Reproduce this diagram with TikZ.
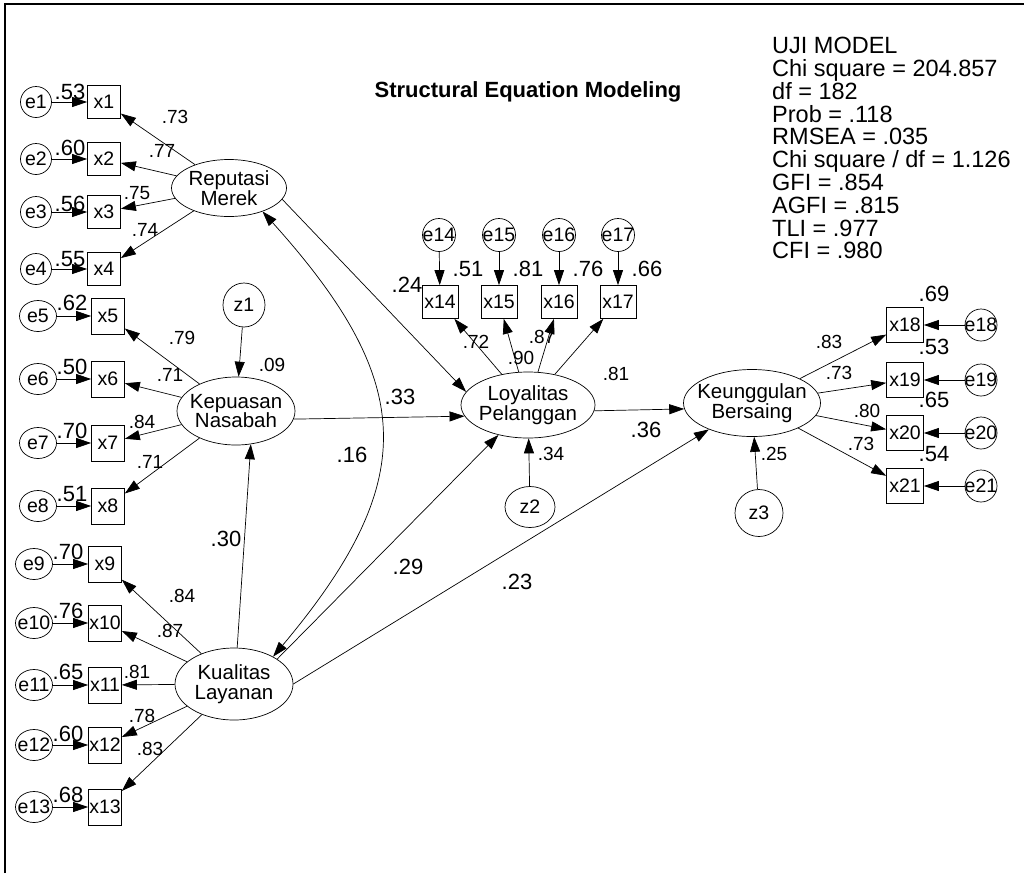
\documentclass[tikz,border=0pt]{standalone}
\usepackage{fontspec}
\setmainfont{Liberation Sans}
\usetikzlibrary{shapes.geometric,arrows.meta}

\newcommand\labfont{\fontsize{19.5}{18}\selectfont}
\newcommand\latfont{\fontsize{20.5}{19.5}\selectfont}
\newcommand\smallcoef{\fontsize{19}{19}\selectfont}
\newcommand\bigcoef{\fontsize{22}{22}\selectfont}
\newcommand\fitfont{\fontsize{23.5}{22.8}\selectfont}

\begin{document}
\begin{tikzpicture}[x=1pt,y=1pt,
    errc/.style={ellipse,draw,line width=0.7pt,inner sep=0pt,inner xsep=-6pt,
      minimum width=31pt,minimum height=31pt,font=\labfont},
    obsbox/.style={rectangle,draw,line width=0.7pt,inner sep=0pt,
      minimum width=33pt,minimum height=33pt,font=\labfont},
    latent/.style={ellipse,draw,line width=0.7pt,inner sep=0pt,inner xsep=-12pt,inner ysep=-3pt,
      align=center,font=\latfont},
    pth/.style={-{Triangle[length=15pt,width=10pt]},line width=0.7pt},
    cov/.style={{Triangle[length=15pt,width=10pt]}-{Triangle[length=15pt,width=10pt]},line width=0.7pt},
    ld/.style={inner sep=0pt,font=\smallcoef},
    cf/.style={inner sep=0pt,font=\bigcoef}]
  \useasboundingbox (0,0) rectangle (1024,-873);
  \draw [line width=2pt] (5,-873) -- (5,-4) -- (1024,-4);

  % title and fit indices
  \node at (528,-97) [anchor=base,inner sep=0pt,font=\bfseries\fontsize{22}{22}\selectfont] (ttl) {Structural Equation Modeling};
  \node at (772,-37) [anchor=north west,align=left,inner sep=0pt,font=\fitfont] (fit)
    {UJI MODEL\\Chi square = 204.857\\df = 182\\Prob = .118\\RMSEA = .035\\Chi square / df = 1.126\\GFI = .854\\AGFI = .815\\TLI = .977\\CFI = .980};

  % latent variables
  \node at (229,-188) [latent,minimum width=115pt,minimum height=57pt] (RM) {Reputasi\\Merek};
  \node at (236,-411) [latent,minimum width=118pt,minimum height=68pt] (KN) {Kepuasan\\Nasabah};
  \node at (234,-684) [latent,minimum width=118pt,minimum height=72pt] (KL) {Kualitas\\Layanan};
  \node at (528,-405) [latent,minimum width=134pt,minimum height=66pt] (LP) {Loyalitas\\Pelanggan};
  \node at (752,-403) [latent,minimum width=137pt,minimum height=67pt] (KB) {Keunggulan\\Bersaing};
  \node at (244,-305) [errc,minimum width=42pt,minimum height=44pt] (z1) {z1};
  \node at (530,-507) [errc,minimum width=50pt,minimum height=41pt] (z2) {z2};
  \node at (759,-513) [errc,minimum width=48pt,minimum height=47pt] (z3) {z3};

  % Reputasi Merek indicators
  \node at (36,-102) [errc] (e1) {e1};
  \node at (36,-159) [errc] (e2) {e2};
  \node at (36,-212) [errc] (e3) {e3};
  \node at (36,-269) [errc] (e4) {e4};
  \node at (104,-102) [obsbox] (x1) {x1};
  \node at (104,-159) [obsbox] (x2) {x2};
  \node at (104,-212) [obsbox] (x3) {x3};
  \node at (104,-269) [obsbox] (x4) {x4};

  % Kepuasan Nasabah indicators
  \node at (38,-316) [errc,minimum width=37pt] (e5) {e5};
  \node at (38,-379) [errc,minimum width=37pt] (e6) {e6};
  \node at (38,-443) [errc,minimum width=37pt] (e7) {e7};
  \node at (38,-506) [errc,minimum width=37pt] (e8) {e8};
  \node at (108,-316) [obsbox,minimum height=36pt] (x5) {x5};
  \node at (108,-379) [obsbox,minimum height=36pt] (x6) {x6};
  \node at (108,-443) [obsbox,minimum height=36pt] (x7) {x7};
  \node at (108,-506) [obsbox,minimum height=36pt] (x8) {x8};

  % Kualitas Layanan indicators
  \node at (34,-564) [errc,minimum width=37pt] (e9) {e9};
  \node at (34,-623) [errc,minimum width=37pt] (e10) {e10};
  \node at (34,-685) [errc,minimum width=37pt] (e11) {e11};
  \node at (34,-745) [errc,minimum width=37pt] (e12) {e12};
  \node at (34,-807) [errc,minimum width=37pt] (e13) {e13};
  \node at (105,-564) [obsbox,minimum height=36pt] (x9) {x9};
  \node at (105,-623) [obsbox,minimum height=36pt] (x10) {x10};
  \node at (105,-685) [obsbox,minimum height=36pt] (x11) {x11};
  \node at (105,-745) [obsbox,minimum height=36pt] (x12) {x12};
  \node at (105,-807) [obsbox,minimum height=36pt] (x13) {x13};

  % Loyalitas Pelanggan indicators
  \node at (439,-235) [errc,minimum width=33pt,minimum height=33pt] (e14) {e14};
  \node at (499,-235) [errc,minimum width=33pt,minimum height=33pt] (e15) {e15};
  \node at (559,-235) [errc,minimum width=33pt,minimum height=33pt] (e16) {e16};
  \node at (618,-235) [errc,minimum width=33pt,minimum height=33pt] (e17) {e17};
  \node at (440,-302) [obsbox,minimum width=36pt] (x14) {x14};
  \node at (499,-302) [obsbox,minimum width=36pt] (x15) {x15};
  \node at (559,-302) [obsbox,minimum width=36pt] (x16) {x16};
  \node at (618,-302) [obsbox,minimum width=36pt] (x17) {x17};

  % Keunggulan Bersaing indicators
  \node at (981,-325) [errc,minimum width=32pt,minimum height=32pt] (e18) {e18};
  \node at (981,-380) [errc,minimum width=32pt,minimum height=32pt] (e19) {e19};
  \node at (981,-433) [errc,minimum width=32pt,minimum height=32pt] (e20) {e20};
  \node at (981,-486) [errc,minimum width=32pt,minimum height=32pt] (e21) {e21};
  \node at (905,-325) [obsbox,minimum width=37pt,minimum height=35pt] (x18) {x18};
  \node at (905,-380) [obsbox,minimum width=37pt,minimum height=35pt] (x19) {x19};
  \node at (905,-433) [obsbox,minimum width=37pt,minimum height=35pt] (x20) {x20};
  \node at (905,-486) [obsbox,minimum width=37pt,minimum height=35pt] (x21) {x21};

  % error paths
  \draw [pth] (e1) -- (x1);
  \draw [pth] (e2) -- (x2);
  \draw [pth] (e3) -- (x3);
  \draw [pth] (e4) -- (x4);
  \draw [pth] (e5) -- (x5);
  \draw [pth] (e6) -- (x6);
  \draw [pth] (e7) -- (x7);
  \draw [pth] (e8) -- (x8);
  \draw [pth] (e9) -- (x9);
  \draw [pth] (e10) -- (x10);
  \draw [pth] (e11) -- (x11);
  \draw [pth] (e12) -- (x12);
  \draw [pth] (e13) -- (x13);
  \draw [pth] (e14) -- (x14);
  \draw [pth] (e15) -- (x15);
  \draw [pth] (e16) -- (x16);
  \draw [pth] (e17) -- (x17);
  \draw [pth] (e18) -- (x18);
  \draw [pth] (e19) -- (x19);
  \draw [pth] (e20) -- (x20);
  \draw [pth] (e21) -- (x21);

  % loadings
  \draw [pth] (RM) -- (x1);
  \draw [pth] (RM) -- (x2);
  \draw [pth] (RM) -- (x3);
  \draw [pth] (RM) -- (x4);
  \draw [pth] (KN) -- (x5);
  \draw [pth] (KN) -- (x6);
  \draw [pth] (KN) -- (x7);
  \draw [pth] (KN) -- (x8);
  \draw [pth] (KL) -- (x9);
  \draw [pth] (KL) -- (x10);
  \draw [pth] (KL) -- (x11);
  \draw [pth] (KL) -- (x12);
  \draw [pth] (KL) -- (x13);
  \draw [pth] (LP) -- (x14);
  \draw [pth] (LP) -- (x15);
  \draw [pth] (LP) -- (x16);
  \draw [pth] (LP) -- (x17);
  \draw [pth] (KB) -- (x18);
  \draw [pth] (KB) -- (x19);
  \draw [pth] (KB) -- (x20);
  \draw [pth] (KB) -- (x21);

  % structural paths
  \draw [pth] (z1) -- (KN);
  \draw [pth] (z2) -- (LP);
  \draw [pth] (z3) -- (KB);
  \draw [pth] (RM.-12) -- (LP.168);
  \draw [pth] (KN.-8) -- (LP.190);
  \draw [pth] (KL.30) -- (LP);
  \draw [pth] (KL.85) -- (KN.-66);
  \draw [pth] (KL.east) -- (KB);
  \draw [pth] (LP.-5) -- (KB.185);
  \draw [cov] (RM.-35) .. controls +(-48:230) and +(50:230) .. (KL.35);

  % estimates
  \node at (70,-92) [cf] (r1) {.53};
  \node at (70,-148) [cf] (r2) {.60};
  \node at (70,-204) [cf] (r3) {.56};
  \node at (70,-259) [cf] (r4) {.55};
  \node at (72,-303) [cf] (r5) {.62};
  \node at (72,-367) [cf] (r6) {.50};
  \node at (72,-431) [cf] (r7) {.70};
  \node at (72,-494) [cf] (r8) {.51};
  \node at (68,-552) [cf] (r9) {.70};
  \node at (68,-611) [cf] (r10) {.76};
  \node at (68,-672) [cf] (r11) {.65};
  \node at (68,-734) [cf] (r12) {.60};
  \node at (68,-795) [cf] (r13) {.68};
  \node at (468,-269) [cf] (r14) {.51};
  \node at (528,-269) [cf] (r15) {.81};
  \node at (588,-269) [cf] (r16) {.76};
  \node at (647,-269) [cf] (r17) {.66};
  \node at (934,-294) [cf] (r18) {.69};
  \node at (934,-347) [cf] (r19) {.53};
  \node at (934,-400) [cf] (r20) {.65};
  \node at (934,-454) [cf] (r21) {.54};

  \node at (175,-117) [ld] (l1) {.73};
  \node at (162,-151) [ld] (l2) {.77};
  \node at (137,-193) [ld] (l3) {.75};
  \node at (145,-230) [ld] (l4) {.74};
  \node at (182,-338) [ld] (l5) {.79};
  \node at (170,-375) [ld] (l6) {.71};
  \node at (142,-422) [ld] (l7) {.84};
  \node at (150,-462) [ld] (l8) {.71};
  \node at (182,-596) [ld] (l9) {.84};
  \node at (170,-631) [ld] (l10) {.87};
  \node at (137,-672) [ld] (l11) {.81};
  \node at (142,-716) [ld] (l12) {.78};
  \node at (150,-749) [ld] (l13) {.83};
  \node at (476,-342) [ld] (l14) {.72};
  \node at (521,-358) [ld] (l15) {.90};
  \node at (542,-337) [ld] (l16) {.87};
  \node at (616,-374) [ld] (l17) {.81};
  \node at (829,-342) [ld] (l18) {.83};
  \node at (839,-373) [ld] (l19) {.73};
  \node at (867,-411) [ld] (l20) {.80};
  \node at (861,-444) [ld] (l21) {.73};
  \node at (272,-365) [ld] (q1) {.09};
  \node at (551,-454) [ld] (q2) {.34};
  \node at (774,-454) [ld] (q3) {.25};

  \node at (407,-285) [cf] (b24) {.24};
  \node at (400,-397) [cf] (b33) {.33};
  \node at (408,-567) [cf] (b29) {.29};
  \node at (352,-455) [cf] (c16) {.16};
  \node at (226,-539) [cf] (b30) {.30};
  \node at (517,-582) [cf] (b23) {.23};
  \node at (646,-430) [cf] (b36) {.36};
\end{tikzpicture}
\end{document}
